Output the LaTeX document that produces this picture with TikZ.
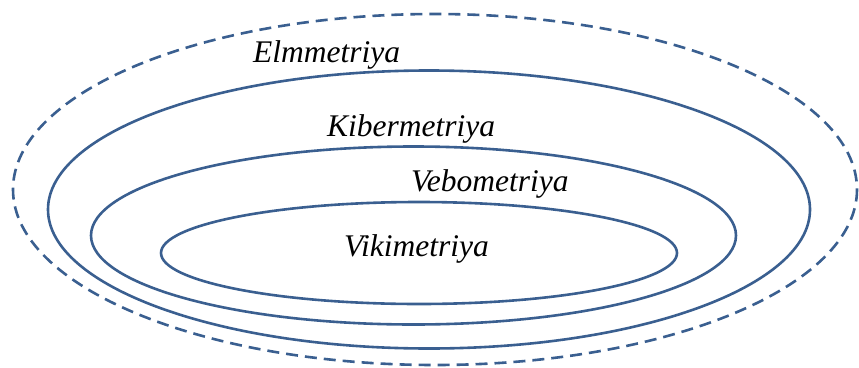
\documentclass[tikz,border=0pt]{standalone}
\usepackage{fontspec}
\setmainfont{Liberation Serif}
\definecolor{ringblue}{HTML}{3A5F90}
\begin{document}
\begin{tikzpicture}[x=1pt,y=-1pt,
  ring/.style={draw=ringblue,line width=2.6pt},
  dashring/.style={ring,dash pattern=on 12pt off 7pt},
  lbl/.style={anchor=base west,inner sep=0pt,font=\fontsize{31.5}{36}\selectfont\itshape}]
\useasboundingbox (0,0) rectangle (859,367);
\draw[dashring] (435,189.5) ellipse [x radius=422,y radius=175.5];
\draw[ring] (429,209.5) ellipse [x radius=381,y radius=139];
\draw[ring] (413.5,235.5) ellipse [x radius=322.5,y radius=89];
\draw[ring] (419,253) ellipse [x radius=258,y radius=51];
\node[lbl] (elm) at (253,62) {Elmmetriya};
\node[lbl] (kib) at (327,136) {Kibermetriya};
\node[lbl] (veb) at (411,191) {Vebometriya};
\node[lbl] (vik) at (344,256) {Vikimetriya};
\end{tikzpicture}
\end{document}
